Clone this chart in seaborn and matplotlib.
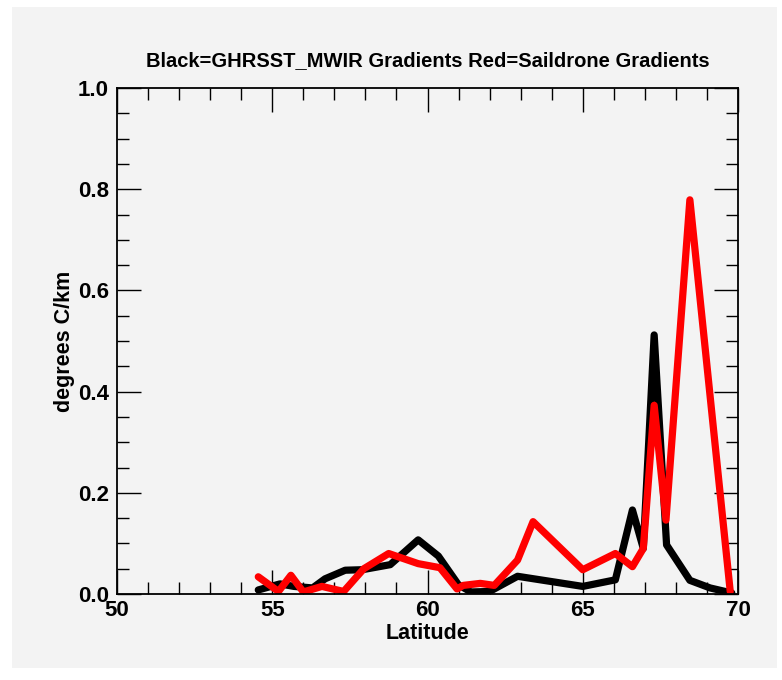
import matplotlib
matplotlib.use("Agg")
import matplotlib.pyplot as plt
import seaborn as sns
import pandas as pd
from matplotlib.patches import Rectangle
from matplotlib.ticker import MultipleLocator

# Data
black_lat = [54.55, 55.25, 55.7, 56.3, 56.7, 57.35, 57.9, 58.8, 59.7, 60.35, 61.0, 61.4,
             62.0, 62.9, 65.0, 66.05, 66.6, 66.95, 67.3, 67.7, 68.45, 69.1, 69.8]
black_val = [0.008, 0.02, 0.015, 0.012, 0.03, 0.047, 0.048, 0.058, 0.107, 0.075, 0.018, 0.004,
             0.005, 0.035, 0.015, 0.028, 0.166, 0.09, 0.512, 0.097, 0.027, 0.012, 0.002]

red_lat = [54.55, 55.2, 55.6, 56.0, 56.6, 57.3, 57.95, 58.75, 59.7, 60.4, 60.95, 61.15,
           61.7, 62.15, 62.9, 63.4, 65.0, 66.05, 66.6, 66.95, 67.3, 67.68, 68.45, 69.75]
red_val = [0.034, 0.005, 0.037, 0.004, 0.015, 0.005, 0.05, 0.08, 0.06, 0.052, 0.01, 0.017,
           0.021, 0.017, 0.067, 0.143, 0.048, 0.08, 0.054, 0.09, 0.373, 0.146, 0.779, 0.005]

title = "Black=GHRSST_MWIR Gradients Red=Saildrone Gradients"
xlabel = "Latitude"
ylabel = "degrees C/km"
xticks = [50, 55, 60, 65, 70]
yticks = [0.0, 0.2, 0.4, 0.6, 0.8, 1.0]

sns.set_style("ticks")
plt.rcParams['font.family'] = ['Liberation Sans', 'DejaVu Sans']
plt.rcParams['font.weight'] = 'bold'
plt.rcParams['text.color'] = 'black'
plt.rcParams['axes.labelcolor'] = 'black'
plt.rcParams['xtick.color'] = 'black'
plt.rcParams['ytick.color'] = 'black'

W, H = 782, 680
fig = plt.figure(figsize=(W / 100, H / 100), dpi=100, facecolor='white')
bg = '#f3f3f3'

bgax = fig.add_axes([0, 0, 1, 1], zorder=-5)
bgax.set_axis_off()
bgax.set_xlim(0, W)
bgax.set_ylim(H, 0)
bgax.add_patch(Rectangle((12, 7), 777 - 12, 668 - 7, facecolor=bg, edgecolor='none'))

ax = fig.add_axes([117 / W, 1 - 594 / H, (738 - 117) / W, (594 - 88) / H], zorder=1)
ax.set_facecolor(bg)

df_b = pd.DataFrame({'lat': black_lat, 'val': black_val})
df_r = pd.DataFrame({'lat': red_lat, 'val': red_val})
sns.lineplot(data=df_b, x='lat', y='val', color='black', lw=5.2, ax=ax,
             estimator=None, sort=False)
sns.lineplot(data=df_r, x='lat', y='val', color='#ff0000', lw=5.2, ax=ax,
             estimator=None, sort=False)

ax.set_xlim(50, 70)
ax.set_ylim(0, 1.0)
ax.set_xticks(xticks)
ax.set_xticklabels([str(t) for t in xticks])
ax.set_yticks(yticks)
ax.set_yticklabels([f"{t:.1f}" for t in yticks])
ax.xaxis.set_minor_locator(MultipleLocator(1))
ax.yaxis.set_minor_locator(MultipleLocator(0.05))

ax.tick_params(which='both', direction='in', top=True, right=True, width=1.0, color='black',
               labelcolor='black')
ax.tick_params(which='major', length=17, labelsize=16)
ax.tick_params(axis='x', which='major', pad=4)
ax.tick_params(axis='y', which='major', pad=6)
ax.tick_params(which='minor', length=8.5)
for lab in ax.get_xticklabels() + ax.get_yticklabels():
    lab.set_fontweight('bold')
for s in ax.spines.values():
    s.set_linewidth(1.3)
    s.set_color('black')

ax.set_xlabel(xlabel, fontsize=15.5, fontweight='bold', labelpad=2, color='black')
ax.set_ylabel(ylabel, fontsize=15.5, fontweight='bold', labelpad=2, color='black')
ax.set_title(title, fontsize=14.5, fontweight='bold', pad=16, color='black')

fig.savefig('out.png', dpi=100, facecolor='white')
